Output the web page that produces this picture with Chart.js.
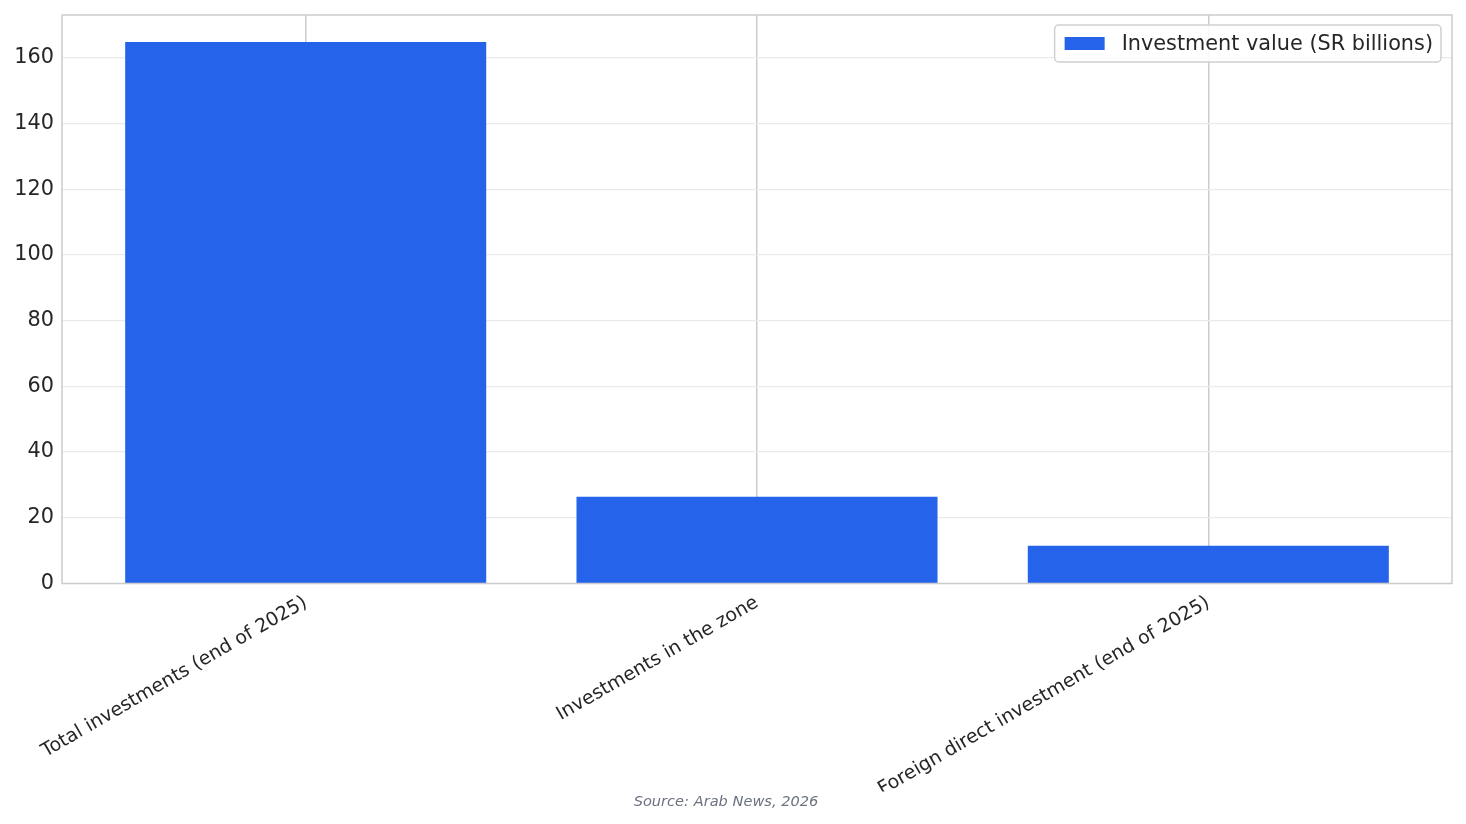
<!DOCTYPE html>
<html>
<head>
<meta charset="utf-8">
<script src="https://cdn.jsdelivr.net/npm/chart.js@4/dist/chart.umd.min.js"></script>
<style>
html,body{margin:0;padding:0;background:#fff;}
#wrap{width:1466px;height:824px;}
</style>
</head>
<body>
<div id="wrap"><canvas id="c" width="1466" height="824"></canvas></div>
<script>
const categories = ["Total investments (end of 2025)", "Investments in the zone", "Foreign direct investment (end of 2025)"];
const values = [164.8, 26.4, 11.5];
const seriesLabel = "Investment value (SR billions)";
const sourceText = "Source: Arab News, 2026";
const yTicks = [0, 20, 40, 60, 80, 100, 120, 140, 160];

const FONT = "'DejaVu Sans', sans-serif";
const BLUE = "#2563eb";
const TEXT = "#262626";

const points = values.map((v, i) => ({x: i, y: v}));
const n = categories.length;
const xPad = 0.4 + 0.05 * (n - 1 + 0.8);

const framePlugin = {
  id: 'frame',
  afterDraw(chart) {
    const {ctx, chartArea: a} = chart;
    ctx.save();
    ctx.strokeStyle = '#cccccc';
    ctx.lineWidth = 1.5;
    ctx.strokeRect(a.left, a.top, a.right - a.left, a.bottom - a.top);
    ctx.restore();
  }
};

// legend drawn inside the plot area, upper right, with a rounded frame
const innerLegendPlugin = {
  id: 'innerLegend',
  afterDraw(chart) {
    const ctx = chart.ctx;
    const a = chart.chartArea;
    const ds = chart.data.datasets[0];
    const fontSize = 20.8;
    ctx.save();
    ctx.font = `${fontSize}px ${FONT}`;
    const tw = ctx.measureText(ds.label).width;
    const padL = 10, sw = 40, sh = 13, gap = 17, padR = 8, h = 37;
    const w = padL + sw + gap + tw + padR;
    const x = a.right - 11 - w;
    const y = a.top + 10;
    ctx.fillStyle = 'rgba(255,255,255,0.85)';
    ctx.strokeStyle = '#d0d0d0';
    ctx.lineWidth = 1.5;
    ctx.beginPath();
    ctx.roundRect(x, y, w, h, 4);
    ctx.fill();
    ctx.stroke();
    ctx.fillStyle = ds.backgroundColor;
    ctx.fillRect(x + padL, y + h / 2 - sh / 2, sw, sh);
    ctx.fillStyle = TEXT;
    ctx.textBaseline = 'middle';
    ctx.textAlign = 'left';
    ctx.fillText(ds.label, x + padL + sw + gap, y + h / 2 + 1);
    ctx.restore();
  }
};

new Chart(document.getElementById('c'), {
  type: 'bar',
  data: {
    datasets: [{
      label: seriesLabel,
      data: points,
      backgroundColor: BLUE,
      borderWidth: 0,
      barPercentage: 0.8,
      categoryPercentage: 1.0
    }]
  },
  options: {
    responsive: false,
    animation: false,
    devicePixelRatio: 1,
    layout: {padding: {top: 15, right: 14, left: 0, bottom: 0}},
    plugins: {
      legend: {display: false},
      title: {
        display: true,
        position: 'bottom',
        text: sourceText,
        color: '#6b7280',
        font: {family: FONT, size: 14.6, style: 'italic', weight: 'normal'},
        padding: {top: 2, bottom: 13}
      },
      tooltip: {enabled: false}
    },
    scales: {
      x: {
        type: 'linear',
        min: -xPad,
        max: n - 1 + xPad,
        offset: false,
        afterBuildTicks(scale) {
          scale.ticks = categories.map((_, i) => ({value: i}));
        },
        afterFit(scale) {
          scale.height = 208;
          scale.paddingLeft = 0;
          scale.paddingRight = 0;
        },
        ticks: {
          autoSkip: false,
          minRotation: 30,
          maxRotation: 30,
          padding: 8,
          color: TEXT,
          font: {family: FONT, size: 19},
          callback: (v) => categories[v] !== undefined ? categories[v] : ''
        },
        grid: {color: '#cccccc', lineWidth: 1.5, drawTicks: false, offset: false},
        border: {display: false}
      },
      y: {
        min: 0,
        max: Math.max(...values) * 1.05,
        afterBuildTicks(scale) {
          scale.ticks = yTicks.map(v => ({value: v}));
        },
        afterFit(scale) {
          scale.width = 62;
          scale.paddingTop = 0;
          scale.paddingBottom = 0;
        },
        ticks: {
          color: TEXT,
          font: {family: FONT, size: 20.8},
          padding: 8
        },
        grid: {color: '#ebebeb', lineWidth: 1.2, drawTicks: false},
        border: {display: false}
      }
    }
  },
  plugins: [framePlugin, innerLegendPlugin]
});
</script>
</body>
</html>
